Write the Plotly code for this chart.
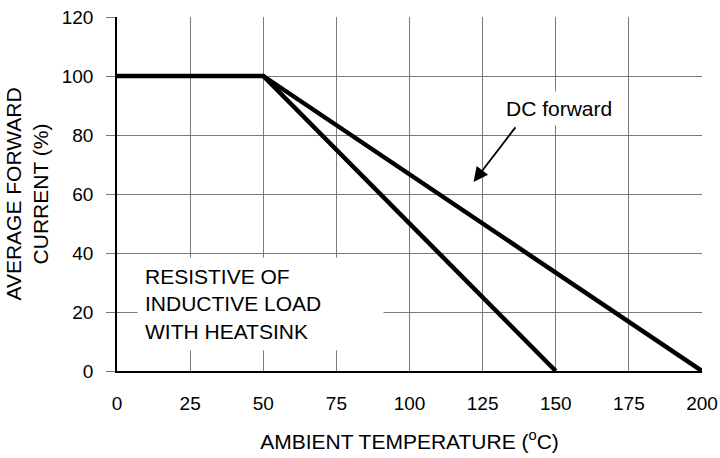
import plotly.graph_objects as go

# Data
resistive_temp = [0, 50, 150]
resistive_current = [100, 100, 0]
dc_temp = [50, 200]
dc_current = [100, 0]

x_ticks = [0, 25, 50, 75, 100, 125, 150, 175, 200]
y_ticks = [0, 20, 40, 60, 80, 100, 120]

FONT = "Liberation Sans, Arial, sans-serif"
GRID = "#7a7a7a"

fig = go.Figure()
fig.add_trace(go.Scatter(x=resistive_temp, y=resistive_current, mode="lines",
                         line=dict(color="black", width=4.5), showlegend=False, cliponaxis=False))
fig.add_trace(go.Scatter(x=dc_temp, y=dc_current, mode="lines",
                         line=dict(color="black", width=4.5), showlegend=False, cliponaxis=False))

fig.update_layout(
    width=720, height=458,
    margin=dict(l=117, r=18, t=17, b=87),
    paper_bgcolor="white", plot_bgcolor="white",
    font=dict(family=FONT, color="black", size=19),
    xaxis=dict(range=[0, 200], tickvals=x_ticks, showgrid=True, gridcolor=GRID, gridwidth=1,
               showline=True, linecolor="black", linewidth=1.5, ticks="",
               ticklabelstandoff=14, zeroline=False, automargin=False,
               tickfont=dict(size=19),
               title=dict(text="AMBIENT TEMPERATURE (<sup>o</sup>C)", font=dict(size=21), standoff=22)),
    yaxis=dict(range=[0, 120], tickvals=y_ticks, showgrid=True, gridcolor=GRID, gridwidth=1,
               showline=True, linecolor="black", linewidth=1.5, ticks="outside", ticklen=9,
               tickcolor=GRID, tickwidth=1, ticklabelstandoff=9, zeroline=False, automargin=False,
               tickfont=dict(size=19),
               title=dict(text="AVERAGE FORWARD<br>CURRENT (%)", font=dict(size=21), standoff=7)),
)

# DC forward label
fig.add_annotation(x=151, y=89.1, xref="x", yref="y", text="DC forward", showarrow=False,
                   font=dict(size=21, family=FONT, color="black"), bgcolor="white", borderpad=5)
# arrow
fig.add_annotation(x=121.9, y=64.1, xref="x", yref="y", text="", showarrow=True,
                   ax=43, ay=-56, arrowhead=2, arrowsize=1.6, arrowwidth=1.8, arrowcolor="black")
# load note
fig.add_annotation(x=6.7, y=22.6, xref="x", yref="y", xanchor="left", yanchor="middle",
                   text="RESISTIVE OF<br>INDUCTIVE LOAD<br>WITH HEATSINK", showarrow=False,
                   align="left", width=231, bgcolor="white", borderpad=7,
                   font=dict(size=21, family=FONT, color="black"))

fig.write_html("out.html", config={"displayModeBar": False},
               post_script="document.body.style.margin='0px';")
